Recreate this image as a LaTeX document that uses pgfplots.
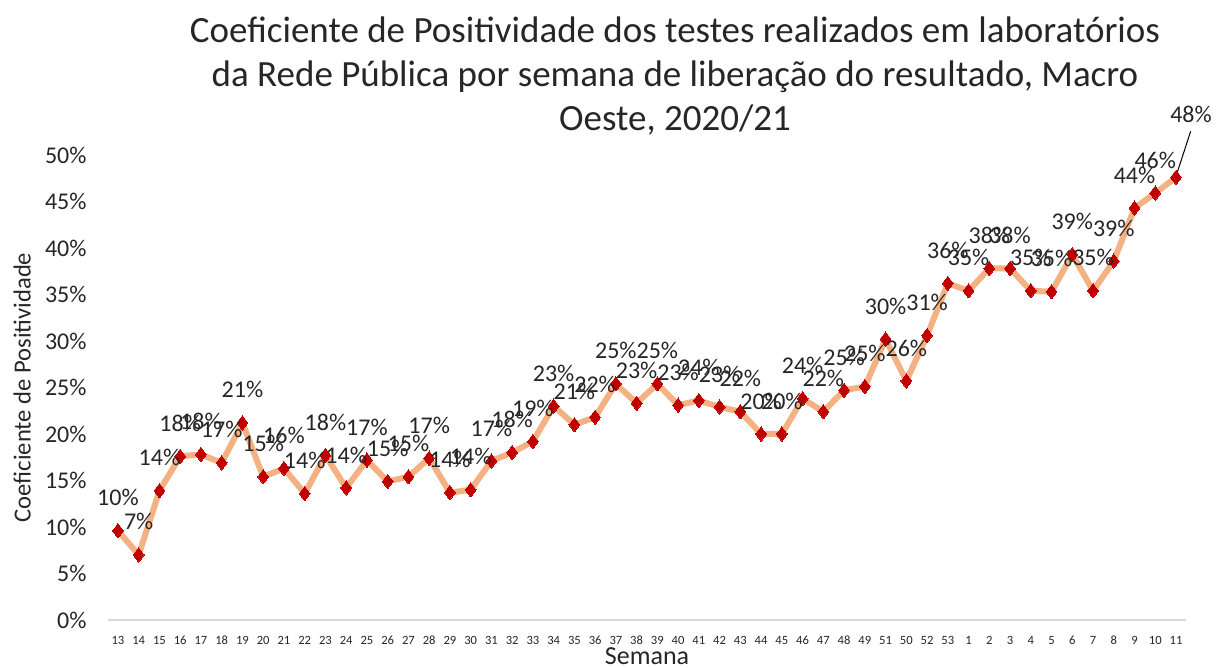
\documentclass[border=0pt]{standalone}
\usepackage{pgfplots}
\pgfplotsset{compat=1.18}
\usepackage{fontspec}
\setmainfont{Carlito}
\definecolor{linec}{HTML}{F4B183}
\definecolor{markc}{HTML}{C00000}
\definecolor{txt}{HTML}{262626}
\begin{document}
\begin{tikzpicture}
\useasboundingbox (0,0) rectangle (615pt,334pt);
\begin{axis}[
  at={(53.8pt,24pt)}, anchor=south west,
  scale only axis, width=539.4pt, height=232.5pt,
  clip=false,
  /pgf/number format/assume math mode=true,
  xmin=-0.5, xmax=51.5, ymin=0, ymax=50,
  xtick={0,...,51},
  xticklabels={13,14,15,16,17,18,19,20,21,22,23,24,25,26,27,28,29,30,31,32,33,34,35,36,37,38,39,40,41,42,43,44,45,46,47,48,49,51,50,52,53,1,2,3,4,5,6,7,8,9,10,11},
  ytick={0,5,...,50},
  yticklabel={\pgfmathprintnumber{\tick}\%},
  major tick length=0pt,
  axis x line*=bottom, axis y line*=left,
  x axis line style={draw=black!15, line width=1pt},
  y axis line style={draw=none},
  xticklabel style={font=\fontsize{6.3}{7}\selectfont, text=txt, yshift=-4.5pt},
  yticklabel style={font=\fontsize{12}{14}\selectfont, text=txt, xshift=-7pt},
  xlabel={Semana}, ylabel={Coeficiente de Positividade},
  every axis x label/.style={at={(axis description cs:0.5,0)}, yshift=-18pt, anchor=center, font=\fontsize{13}{15}\selectfont, text=txt},
  every axis y label/.style={at={(axis description cs:-0.0793,0.5)}, rotate=90, anchor=center, font=\fontsize{12.3}{14}\selectfont, text=txt},
]
\addplot[color=linec, line width=3pt, mark=diamond*, mark size=3.6pt,
  mark options={fill=markc, draw=markc, line width=0pt}] coordinates {
(0,9.6)(1,7.0)(2,13.9)(3,17.6)(4,17.8)(5,16.9)(6,21.2)(7,15.4)(8,16.3)(9,13.6)
(10,17.7)(11,14.2)(12,17.2)(13,14.9)(14,15.4)(15,17.4)(16,13.7)(17,14.0)(18,17.1)(19,18.0)
(20,19.2)(21,23.0)(22,21.0)(23,21.8)(24,25.4)(25,23.3)(26,25.4)(27,23.1)(28,23.6)(29,22.9)
(30,22.4)(31,20.0)(32,20.0)(33,23.8)(34,22.4)(35,24.7)(36,25.1)(37,30.2)(38,25.7)(39,30.6)
(40,36.2)(41,35.4)(42,37.8)(43,37.8)(44,35.4)(45,35.3)(46,39.3)(47,35.4)(48,38.6)(49,44.3)
(50,45.9)(51,47.6)};
\addplot[draw=none, mark=none, point meta=y,
  nodes near coords={\pgfmathprintnumber[fixed,precision=0]{\pgfplotspointmeta}\%},
  every node near coord/.append style={anchor=center, yshift=16.5pt, font=\fontsize{12}{14}\selectfont, text=txt}] coordinates {
(0,9.6)(1,7.0)(2,13.9)(3,17.6)(4,17.8)(5,16.9)(6,21.2)(7,15.4)(8,16.3)(9,13.6)
(10,17.7)(11,14.2)(12,17.2)(13,14.9)(14,15.4)(15,17.4)(16,13.7)(17,14.0)(18,17.1)(19,18.0)
(20,19.2)(21,23.0)(22,21.0)(23,21.8)(24,25.4)(25,23.3)(26,25.4)(27,23.1)(28,23.6)(29,22.9)
(30,22.4)(31,20.0)(32,20.0)(33,23.8)(34,22.4)(35,24.7)(36,25.1)(37,30.2)(38,25.7)(39,30.6)
(40,36.2)(41,35.4)(42,37.8)(43,37.8)(44,35.4)(45,35.3)(46,39.3)(47,35.4)(48,38.6)(49,44.3)
(50,45.9)};
\addplot[draw=none, mark=none, point meta=y,
  nodes near coords={\pgfmathprintnumber[fixed,precision=0]{\pgfplotspointmeta}\%},
  every node near coord/.append style={anchor=center, xshift=7.5pt, yshift=31.5pt, font=\fontsize{12}{14}\selectfont, text=txt}] coordinates {(51,47.6)};
\draw[black, line width=0.5pt] (axis cs:51,47.6) ++(0.3pt,1.5pt) -- ++(7pt,21.5pt);
\end{axis}
\node[anchor=north, align=center, text=txt, font=\fontsize{18.5}{22}\selectfont] at (337.5pt,329pt)
  {Coeficiente de Positividade dos testes realizados em laboratórios\\da Rede Pública por semana de liberação do resultado, Macro\\Oeste, 2020/21};
\end{tikzpicture}
\end{document}
